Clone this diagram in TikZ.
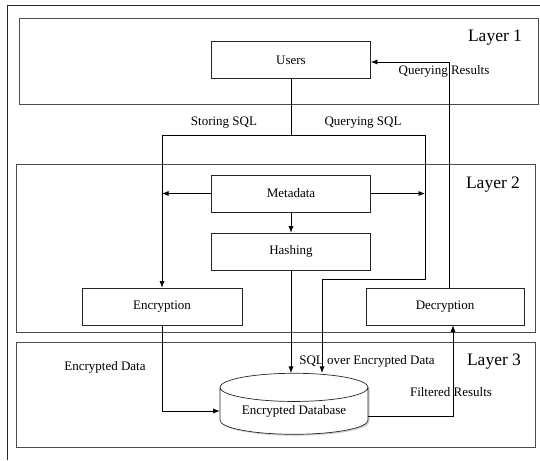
\documentclass[tikz,border=0pt]{standalone}
\usepackage{fontspec}
\setmainfont{Liberation Serif}
\usetikzlibrary{positioning,shapes,shadows,arrows,arrows.meta}
\tikzset{
		basic/.style   = {draw=black!85, line width=0.7pt, font=\fontsize{13}{15}\selectfont, rectangle},
		process/.style = {basic, minimum width=159pt, minimum height=37pt, inner sep=0pt},
		layer/.style   = {draw=black!70, line width=1pt},
		layertext/.style = {font=\fontsize{17.5}{20}\selectfont, inner sep=0pt},
		lbl/.style     = {font=\fontsize{13}{15}\selectfont, inner sep=1pt},
		store/.style   = {cylinder, shape border rotate=90, aspect=0.27, draw=black!85, line width=0.7pt,
			fill=white, minimum width=148pt, minimum height=61pt, inner sep=0pt,
			font=\fontsize{13}{15}\selectfont,
			drop shadow={shadow xshift=1.5pt, shadow yshift=-1.5pt, fill=black!35}}
	}

\begin{document}
\begin{tikzpicture}[x=1pt, y=-1pt, >={Latex[length=6.5pt,width=5pt]}, line width=0.7pt]
		\useasboundingbox (0,0) rectangle (540,460);
		% outer frame
		\draw[black!85, line width=0.8pt] (7,460) -- (7,5) -- (540,5);
		% the three layers
		\draw[layer] (19,19) rectangle (538,104);
		\draw[layer] (16,164) rectangle (535,332);
		\draw[layer] (16,342) rectangle (535,447);
		\node[layertext] (lay1) at (495,38) {Layer 1};
		\node[layertext] (lay2) at (493,185) {Layer 2};
		\node[layertext] (lay3) at (494,362) {Layer 3};
		% boxes
		\node[process] (users) at (291,60) {Users};
		\node[process] (meta)  at (291,193.5) {Metadata};
		\node[process] (hash)  at (291,251.5) {Hashing};
		\node[process, minimum width=160pt] (encr) at (162,306.5) {Encryption};
		\node[process, minimum width=158pt] (decr) at (445,306.5) {Decryption};
		\node[store] (db) at (294,411) {Encrypted Database};
		% turning points of the connectors
		\coordinate (sl) at (162,135);
		\coordinate (sr) at (425,135);
		\coordinate (qs) at (425,279);
		\coordinate (qd) at (322,279);
		\coordinate (qr) at (449,62);
		\coordinate (fr) at (453,416);
		% connectors
		\draw (users.south) -- (users.south |- sl);
		\draw (sl) -- (sr);
		\draw[->] (sl) -- (encr.north);
		\draw[->] (sr) -- (qs) -- (qd) -- (qd |- db.north);
		\draw[->] (meta.west) -- (meta.west -| sl);
		\draw[->] (meta.east) -- (meta.east -| sr);
		\draw[->] (meta) -- (hash);
		\draw[->] (hash.south) -- (hash.south |- db.north);
		\draw[->] (qr |- decr.north) -- (qr) -- (qr -| users.east);
		\draw[->] (encr.south) |- (db.west);
		\draw[->] (db.east |- fr) -- (fr) -- (fr |- decr.south);
		% labels
		\node[lbl] (storing) at (224,123) {Storing SQL};
		\node[lbl] (querying) at (363,123) {Querying SQL};
		\node[lbl] (results) at (444,71) {Querying Results};
		\node[lbl] (encdata) at (105,367) {Encrypted Data};
		\node[lbl] (sqlover) at (367,361) {SQL over Encrypted Data};
		\node[lbl] (filtered) at (451,392) {Filtered Results};
	\end{tikzpicture}
\end{document}
